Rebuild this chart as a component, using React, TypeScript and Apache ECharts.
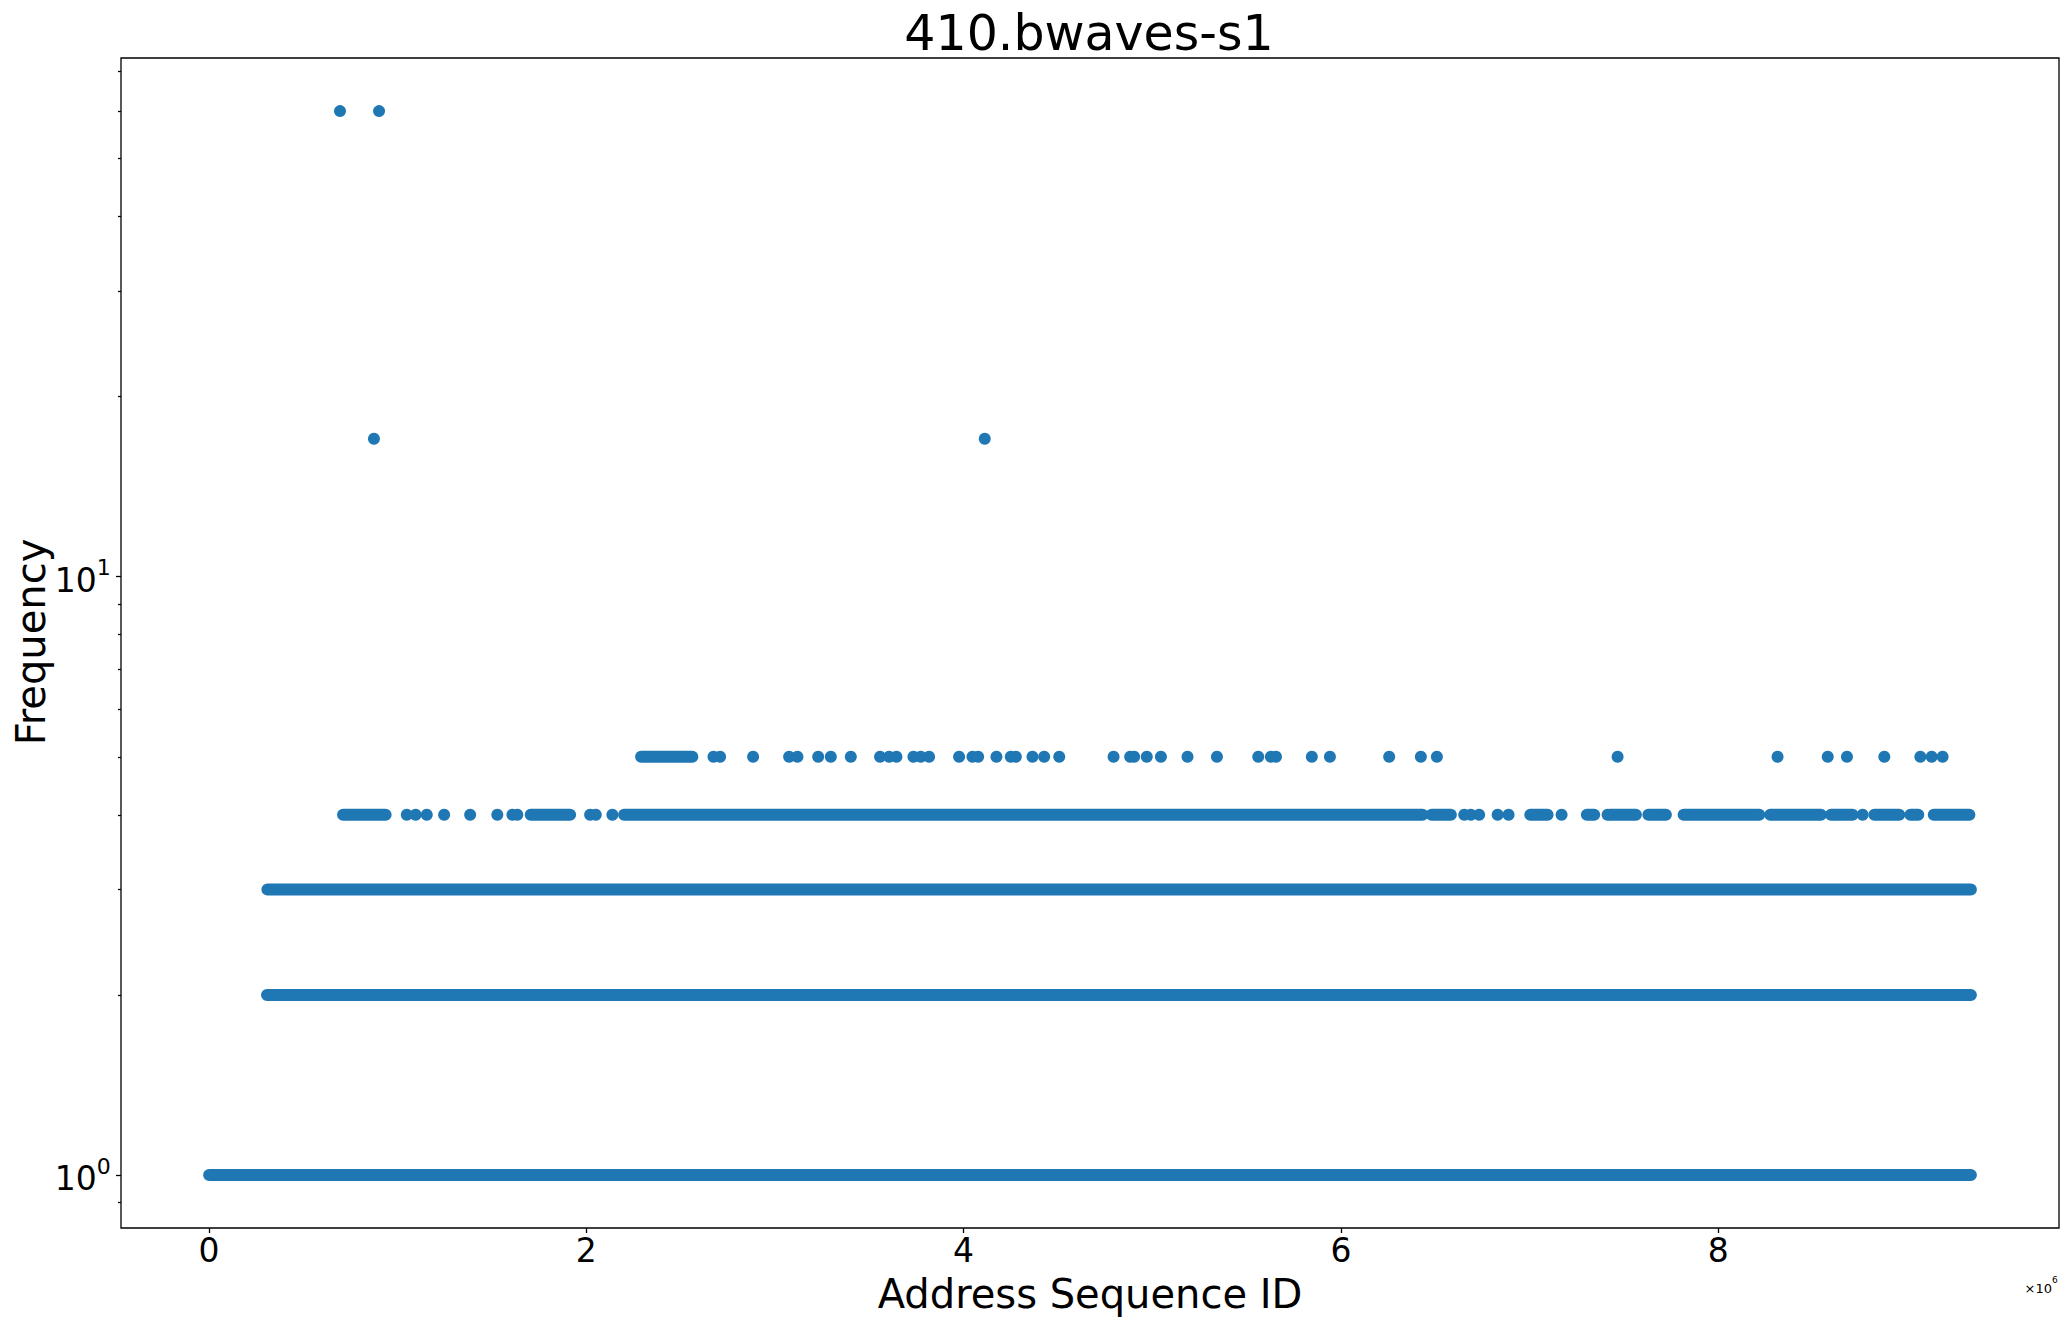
import { useRef, useEffect } from 'react'
import * as echarts from 'echarts'

const COLOR = '#1f77b4'
const FONT = 'DejaVu Sans'

// x values are address sequence ids in units of 10^6
const X_TICKS = [0, 2, 4, 6, 8]
const Y_MAJOR_TICKS = [1, 10]
const Y_MINOR_TICKS = [0.9, 2, 3, 4, 5, 6, 7, 8, 9, 20, 30, 40, 50, 60, 70]

// dense runs of points drawn as one continuous band: [start, end]
const LEVEL_1_BANDS = [[0, 9.34]]
const LEVEL_2_BANDS = [[0.307, 9.34]]
const LEVEL_3_BANDS = [[0.309, 9.34]]
const LEVEL_4_BANDS = [
  [0.71, 0.936], [1.705, 1.914], [2.2, 6.433], [6.481, 6.583], [7.004, 7.096],
  [7.304, 7.343], [7.426, 7.564], [7.63, 7.723], [7.817, 8.218], [8.276, 8.545],
  [8.598, 8.713], [8.828, 8.96], [9.019, 9.061], [9.143, 9.332],
]
const LEVEL_5_BANDS = [[2.29, 2.562]]

// isolated points
const LEVEL_4_POINTS = [
  1.048, 1.095, 1.154, 1.246, 1.384, 1.528, 1.608, 1.634, 2.02, 2.05, 2.138,
  6.654, 6.689, 6.733, 6.831, 6.889, 7.17, 7.414, 8.766,
]
const LEVEL_5_POINTS = [
  2.674, 2.709, 2.884, 3.075, 3.119, 3.229, 3.296, 3.402, 3.557, 3.605, 3.644,
  3.734, 3.773, 3.817, 3.976, 4.047, 4.077, 4.174, 4.25, 4.277, 4.365, 4.427,
  4.507, 4.795, 4.883, 4.904, 4.971, 5.046, 5.187, 5.343, 5.562, 5.629, 5.656,
  5.846, 5.942, 6.256, 6.424, 6.509, 7.467, 8.315, 8.581, 8.683, 8.881, 9.072,
  9.132, 9.19,
]
const PEAK_POINTS = [[0.694, 60], [0.901, 60], [0.874, 17], [4.112, 17]]

const X_MIN = -0.467
const X_MAX = 9.807
const Y_MIN = 0.8155
const Y_MAX = 73.6
const DOT = 12

function buildOption(): echarts.EChartsOption {
  const bands = [
    ...LEVEL_1_BANDS.map((b) => [b[0], b[1], 1]),
    ...LEVEL_2_BANDS.map((b) => [b[0], b[1], 2]),
    ...LEVEL_3_BANDS.map((b) => [b[0], b[1], 3]),
    ...LEVEL_4_BANDS.map((b) => [b[0], b[1], 4]),
    ...LEVEL_5_BANDS.map((b) => [b[0], b[1], 5]),
  ]
  const points = [
    ...LEVEL_4_POINTS.map((x) => [x, 4]),
    ...LEVEL_5_POINTS.map((x) => [x, 5]),
    ...PEAK_POINTS,
  ]
  const axisLineStyle = { color: '#000', width: 1.3 }

  return {
    animation: false,
    backgroundColor: '#fff',
    textStyle: { fontFamily: FONT },
    grid: {
      left: 121, right: 9, top: 58, bottom: 96,
      show: true, borderColor: '#000', borderWidth: 1.3, backgroundColor: 'transparent',
    },
    xAxis: {
      type: 'value',
      min: X_MIN,
      max: X_MAX,
      axisLine: { show: false, onZero: false },
      splitLine: { show: false },
      axisTick: { customValues: X_TICKS, length: 5, lineStyle: axisLineStyle },
      axisLabel: {
        customValues: X_TICKS,
        margin: 6,
        fontSize: 33,
        color: '#000',
        fontFamily: FONT,
      },
    },
    yAxis: [
      {
        type: 'log',
        logBase: 10,
        min: Y_MIN,
        max: Y_MAX,
        axisLine: { show: false, onZero: false },
        splitLine: { show: false },
        axisTick: { customValues: Y_MAJOR_TICKS, length: 5, lineStyle: axisLineStyle },
        axisLabel: {
          customValues: Y_MAJOR_TICKS,
          margin: 10,
          color: '#000',
          formatter: (v: number) => `{b|10}{s|${Math.round(Math.log10(v))}}{p| }`,
          rich: {
            b: { fontSize: 33, fontFamily: FONT, color: '#000', verticalAlign: 'bottom', lineHeight: 21 },
            s: { fontSize: 22, fontFamily: FONT, color: '#000', verticalAlign: 'top', lineHeight: 30 },
            p: { fontSize: 1, lineHeight: 40 },
          },
        },
      },
      {
        type: 'log',
        logBase: 10,
        min: Y_MIN,
        max: Y_MAX,
        position: 'left',
        axisLine: { show: false, onZero: false },
        splitLine: { show: false },
        axisTick: { customValues: Y_MINOR_TICKS, length: 3, lineStyle: axisLineStyle },
        axisLabel: { show: false },
      },
    ],
    graphic: [
      {
        type: 'text',
        x: 1089,
        y: 33,
        style: { text: '410.bwaves-s1', font: `49px "${FONT}"`, fill: '#000', textAlign: 'center', textVerticalAlign: 'middle' },
      },
      {
        type: 'text',
        x: 1090,
        y: 1294,
        style: { text: 'Address Sequence ID', font: `40px "${FONT}"`, fill: '#000', textAlign: 'center', textVerticalAlign: 'middle' },
      },
      {
        type: 'text',
        x: 31,
        y: 642,
        rotation: Math.PI / 2,
        style: { text: 'Frequency', font: `40px "${FONT}"`, fill: '#000', textAlign: 'center', textVerticalAlign: 'middle' },
      },
      {
        type: 'text',
        x: 2058,
        y: 1285,
        style: {
          text: '{b|×10}{s|6}{p| }',
          textAlign: 'right',
          textVerticalAlign: 'middle',
          rich: {
            b: { fontSize: 13, fontFamily: FONT, fill: '#000', verticalAlign: 'bottom', lineHeight: 14 },
            s: { fontSize: 9, fontFamily: FONT, fill: '#000', verticalAlign: 'top', lineHeight: 12 },
            p: { fontSize: 1, lineHeight: 20 },
          },
        },
      },
    ],
    series: [
      {
        type: 'custom',
        name: 'bands',
        data: bands,
        encode: { x: [0, 1], y: 2 },
        renderItem: (_params: any, api: any) => {
          const s = api.coord([api.value(0), api.value(2)])
          const e = api.coord([api.value(1), api.value(2)])
          const r = DOT / 2
          return {
            type: 'rect',
            shape: { x: s[0] - r, y: s[1] - r, width: e[0] - s[0] + DOT, height: DOT, r },
            style: { fill: COLOR },
          }
        },
      },
      {
        type: 'scatter',
        name: 'points',
        data: points,
        symbol: 'circle',
        symbolSize: DOT,
        itemStyle: { color: COLOR, opacity: 1 },
      },
    ],
  }
}

export default function App() {
  const ref = useRef<HTMLDivElement>(null)

  useEffect(() => {
    const el = ref.current
    if (!el) return
    const chart = echarts.init(el, null, { renderer: 'svg' })
    chart.setOption(buildOption())
    return () => chart.dispose()
  }, [])

  return (
    <div
      ref={ref}
      style={{ position: 'absolute', left: 0, top: 0, width: 2068, height: 1324, background: '#fff' }}
    />
  )
}
